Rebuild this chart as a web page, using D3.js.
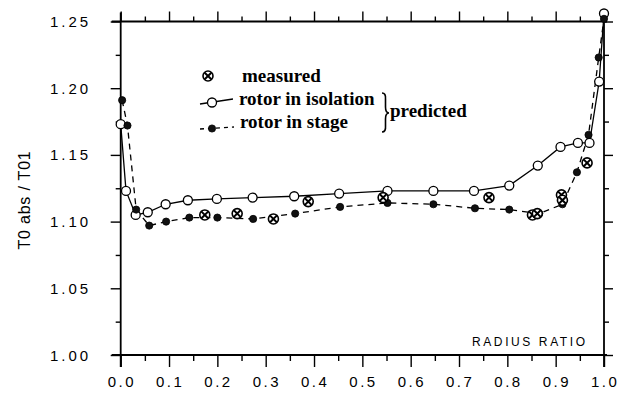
<!DOCTYPE html>
<html><head><meta charset="utf-8">
<script src="https://cdn.jsdelivr.net/npm/d3@7"></script>
<style>body{margin:0;background:#fff}svg{display:block}</style>
</head><body><svg id="c" width="626" height="402"></svg>
<script>
// ---- data ----
const xTickValues = [0, 0.1, 0.2, 0.3, 0.4, 0.5, 0.6, 0.7, 0.8, 0.9, 1.0];
const xTickLabels = ["0.0", "0.1", "0.2", "0.3", "0.4", "0.5", "0.6", "0.7", "0.8", "0.9", "1.0"];
const yTickValues = [1.00, 1.05, 1.10, 1.15, 1.20, 1.25];
const yTickLabels = ["1.00", "1.05", "1.10", "1.15", "1.20", "1.25"];

const isoR = [0.0, 0.011, 0.031, 0.056, 0.093, 0.139, 0.199, 0.273, 0.359, 0.452, 0.552, 0.647, 0.731, 0.804, 0.863, 0.910, 0.946, 0.970, 0.990, 1.0];
const isoV = [1.173, 1.123, 1.105, 1.107, 1.113, 1.116, 1.117, 1.118, 1.119, 1.121, 1.123, 1.123, 1.123, 1.127, 1.142, 1.156, 1.159, 1.159, 1.205, 1.256];

const stageR = [0.003, 0.014, 0.032, 0.059, 0.094, 0.142, 0.200, 0.274, 0.361, 0.454, 0.552, 0.647, 0.733, 0.804, 0.866, 0.914, 0.944, 0.968, 0.989, 1.0];
const stageV = [1.191, 1.172, 1.109, 1.097, 1.100, 1.103, 1.103, 1.102, 1.106, 1.111, 1.114, 1.113, 1.110, 1.109, 1.106, 1.113, 1.137, 1.165, 1.223, 1.252];

const measR = [0.174, 0.241, 0.316, 0.388, 0.543, 0.762, 0.852, 0.862, 0.912, 0.914, 0.965];
const measV = [1.105, 1.106, 1.102, 1.115, 1.118, 1.118, 1.105, 1.106, 1.120, 1.116, 1.144];

const legendLabels = ["measured", "rotor in isolation", "rotor in stage"];
const braceLabel = "predicted";
const xTitle = "RADIUS RATIO";
const yTitle = "T0 abs / T01";

// ---- drawing ----
const svg = d3.select("#c");
const x = d3.scaleLinear().domain([0, 1]).range([120.7, 604]);
const y = d3.scaleLinear().domain([1.0, 1.25]).range([355, 21.5]);
const X0 = x.range()[0], X1 = x.range()[1], Y0 = y.range()[0], Y1 = y.range()[1];

const minorX = d3.range(0, 21).map(i => i * 0.05).filter((v, i) => i % 2 === 1);
const minorY = d3.range(0, 11).map(i => 1 + i * 0.025).filter((v, i) => i % 2 === 1);

function styleAxis(g) {
  g.select(".domain").remove();
  g.selectAll("line").attr("stroke", "#000").attr("stroke-width", 1.4);
  g.selectAll("text").remove();
}
svg.append("g").attr("transform", `translate(0,${Y0})`).call(d3.axisBottom(x).tickValues(xTickValues).tickSize(12)).call(styleAxis);
svg.append("g").attr("transform", `translate(0,${Y0})`).call(d3.axisBottom(x).tickValues(minorX).tickSize(6)).call(styleAxis);
svg.append("g").attr("transform", `translate(0,${Y1})`).call(d3.axisTop(x).tickValues(xTickValues).tickSize(10)).call(styleAxis);
svg.append("g").attr("transform", `translate(0,${Y1})`).call(d3.axisTop(x).tickValues(minorX).tickSize(5)).call(styleAxis);
svg.append("g").attr("transform", `translate(${X0},0)`).call(d3.axisLeft(y).tickValues(yTickValues).tickSize(10)).call(styleAxis);
svg.append("g").attr("transform", `translate(${X0},0)`).call(d3.axisLeft(y).tickValues(minorY).tickSize(5)).call(styleAxis);
svg.append("g").attr("transform", `translate(${X1},0)`).call(d3.axisRight(y).tickValues(yTickValues).tickSize(9)).call(styleAxis);
svg.append("g").attr("transform", `translate(${X1},0)`).call(d3.axisRight(y).tickValues(minorY).tickSize(5)).call(styleAxis);

const frame = svg.append("g").attr("stroke", "#000").attr("stroke-width", 1.8);
frame.append("line").attr("x1", X0 - 9).attr("x2", X1 + 3).attr("y1", Y0).attr("y2", Y0);
frame.append("line").attr("x1", X0 - 9).attr("x2", X1 + 3).attr("y1", Y1).attr("y2", Y1);
frame.append("line").attr("x1", X0).attr("x2", X0).attr("y1", Y1 - 9).attr("y2", Y0 + 12);
frame.append("line").attr("x1", X1).attr("x2", X1).attr("y1", Y1 - 9).attr("y2", Y0 + 12);

const tickFont = "'Liberation Sans', Arial, sans-serif";
svg.append("g").selectAll("text").data(xTickValues).join("text")
  .attr("x", d => x(d) - 13).attr("y", 387)
  .attr("font-family", tickFont).attr("font-size", 15)
  .attr("letter-spacing", 2.5).text((d, i) => xTickLabels[i]);
svg.append("g").selectAll("text").data(yTickValues).join("text")
  .attr("x", 50).attr("y", d => y(d) + 5.5)
  .attr("font-family", tickFont).attr("font-size", 15)
  .attr("letter-spacing", 3).text((d, i) => yTickLabels[i]);

svg.append("text").attr("transform", "translate(30,200) rotate(-90)")
  .attr("text-anchor", "middle").attr("font-family", tickFont).attr("font-size", 16)
  .attr("letter-spacing", 0.8).text(yTitle);
svg.append("text").attr("x", 472).attr("y", 346)
  .attr("font-family", tickFont).attr("font-size", 12).attr("letter-spacing", 2.6).text(xTitle);

const line = d3.line().x(d => x(d[0])).y(d => y(d[1]));
const isoPts = isoR.map((r, i) => [r, isoV[i]]);
const stagePts = stageR.map((r, i) => [r, stageV[i]]);
const measPts = measR.map((r, i) => [r, measV[i]]);

svg.append("path").attr("d", line(isoPts)).attr("fill", "none").attr("stroke", "#000").attr("stroke-width", 1.3);
svg.append("path").attr("d", line(stagePts)).attr("fill", "none").attr("stroke", "#000").attr("stroke-width", 1.3)
  .attr("stroke-dasharray", "6,5");

function measMarker(g) {
  g.append("circle").attr("r", 5).attr("fill", "#fff").attr("stroke", "#000").attr("stroke-width", 1.6);
  g.append("path").attr("d", "M-3.3,-3.3L3.3,3.3M-3.3,3.3L3.3,-3.3").attr("stroke", "#000").attr("stroke-width", 2);
}
function openMarker(g) {
  g.append("circle").attr("r", 4.5).attr("fill", "#fff").attr("stroke", "#000").attr("stroke-width", 1.3);
}
function filledMarker(g) {
  g.append("circle").attr("r", 3.6).attr("fill", "#111").attr("stroke", "#000").attr("stroke-width", 0.8);
}

svg.append("g").selectAll("g").data(isoPts).join("g")
  .attr("transform", d => `translate(${x(d[0])},${y(d[1])})`).each(function () { openMarker(d3.select(this)); });
svg.append("g").selectAll("g").data(stagePts).join("g")
  .attr("transform", d => `translate(${x(d[0])},${y(d[1])})`).each(function () { filledMarker(d3.select(this)); });
svg.append("g").selectAll("g").data(measPts).join("g")
  .attr("transform", d => `translate(${x(d[0])},${y(d[1])})`).each(function () { measMarker(d3.select(this)); });

// legend
const serif = "'Liberation Serif', 'Times New Roman', serif";
const lg = svg.append("g");
measMarker(lg.append("g").attr("transform", "translate(208,76)"));
lg.append("text").attr("x", 242).attr("y", 82).attr("font-family", serif).attr("font-weight", "bold").attr("font-size", 19).text(legendLabels[0]);

lg.append("line").attr("x1", 200).attr("x2", 233).attr("y1", 104).attr("y2", 99).attr("stroke", "#000").attr("stroke-width", 1.3);
openMarker(lg.append("g").attr("transform", "translate(212,102.5)"));
lg.append("text").attr("x", 239).attr("y", 105).attr("font-family", serif).attr("font-weight", "bold").attr("font-size", 19).text(legendLabels[1]);

lg.append("line").attr("x1", 200).attr("x2", 234).attr("y1", 129).attr("y2", 127).attr("stroke", "#000").attr("stroke-width", 1.3).attr("stroke-dasharray", "4,4");
filledMarker(lg.append("g").attr("transform", "translate(212,128.5)"));
lg.append("text").attr("x", 240).attr("y", 128).attr("font-family", serif).attr("font-weight", "bold").attr("font-size", 19).text(legendLabels[2]);

lg.append("path")
  .attr("d", "M382,93 Q386,93 385.5,99 L385.5,107 Q385.5,113 389,113 Q385.5,113 385.5,119 L385.5,126 Q386,132 382,132")
  .attr("fill", "none").attr("stroke", "#000").attr("stroke-width", 1.6);
lg.append("text").attr("x", 390).attr("y", 117).attr("font-family", serif).attr("font-weight", "bold").attr("font-size", 19).text(braceLabel);
</script>
</body></html>
